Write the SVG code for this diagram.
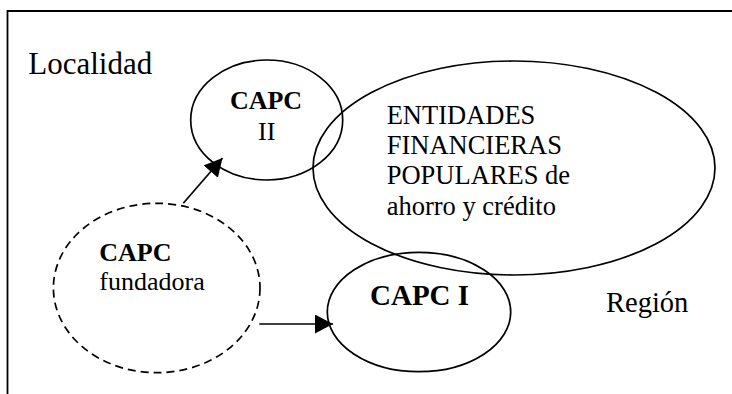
<svg xmlns="http://www.w3.org/2000/svg" width="732" height="394" viewBox="0 0 732 394">
<style>
text{font-family:"Liberation Serif","Times New Roman",serif;fill:#000}
.b{font-weight:bold}
.sh{fill:none;stroke:#000;stroke-width:1.7}
.dash{stroke-dasharray:8 5}
.ln{stroke:#000;stroke-width:1.7;fill:none}
</style>
<defs>
<marker id="ah" markerUnits="userSpaceOnUse" markerWidth="20" markerHeight="20" refX="18" refY="9.5" orient="auto">
<path d="M0,0 L18,9.5 L0,19 Z" fill="#000"/>
</marker>
</defs>
<g id="frame">
<line x1="7" y1="11" x2="732" y2="11" stroke="#000" stroke-width="2"/>
<line x1="7.5" y1="10" x2="7.5" y2="394" stroke="#000" stroke-width="1.8"/>
</g>
<g id="localidad"><text x="28.3" y="74.3" font-size="31">Localidad</text></g>
<g id="region"><text x="606" y="311.7" font-size="28.5">Región</text></g>
<g id="entidades">
<ellipse class="sh" cx="514" cy="168" rx="201" ry="107"/>
<text x="386.7" font-size="26.5"><tspan x="386.7" y="124">ENTIDADES</tspan><tspan x="386.7" y="153.5">FINANCIERAS</tspan><tspan x="386.7" y="184">POPULARES de</tspan><tspan x="386.7" y="215">ahorro y crédito</tspan></text>
</g>
<g id="capc2">
<ellipse class="sh" cx="266.7" cy="120" rx="76" ry="60"/>
<text x="266" y="109" font-size="26" class="b" text-anchor="middle">CAPC</text>
<text x="266.7" y="140" font-size="26" text-anchor="middle">II</text>
</g>
<g id="capc1">
<ellipse class="sh" cx="419" cy="312" rx="91.7" ry="59.7"/>
<text x="370" y="305" font-size="29" class="b">CAPC I</text>
</g>
<g id="fundadora">
<ellipse class="sh dash" cx="156.7" cy="288" rx="103.3" ry="84.7"/>
<text x="99.3" y="261" font-size="26" class="b">CAPC</text>
<text x="99.3" y="290" font-size="26">fundadora</text>
</g>
<g id="connectors">
<line class="ln" x1="183.3" y1="203.3" x2="222.5" y2="158" marker-end="url(#ah)"/>
<line class="ln" x1="259.3" y1="324" x2="333" y2="324" marker-end="url(#ah)"/>
</g>
</svg>
